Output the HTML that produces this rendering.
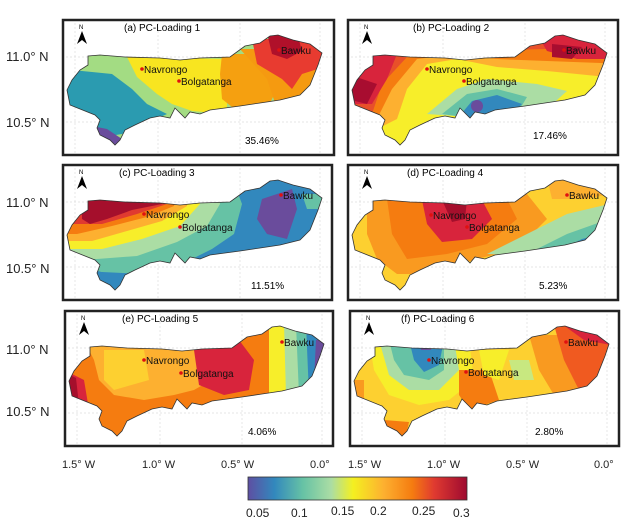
<!DOCTYPE html>
<html><head><meta charset="utf-8"><style>
html,body{margin:0;padding:0;background:#fff;}
svg{display:block;font-family:"Liberation Sans",sans-serif;}
</style></head><body>
<svg width="641" height="528" viewBox="0 0 641 528" xmlns="http://www.w3.org/2000/svg">
<defs>
<path id="ol" d="M26,37 L38,36 L63,38 L98,39 L118,41 L138,39 L168,38 L183,27 L198,24 L208,17 L216,16 L231,21 L248,25 L260,34 L256,46 L248,66 L238,76 L218,81 L198,84 L178,87 L163,89 L148,91 L138,95 L128,93 L123,99 L113,89 L108,99 L98,97 L88,99 L73,106 L63,111 L58,121 L53,126 L48,121 L38,116 L35,109 L38,101 L33,96 L8,86 L5,71 L10,61 L18,51 L26,46 Z"/>
<clipPath id="cp"><use href="#ol"/></clipPath>
<linearGradient id="cb" x1="0" x2="1" y1="0" y2="0">
<stop offset="0" stop-color="#5e4fa2"/><stop offset="0.12" stop-color="#3288bd"/><stop offset="0.25" stop-color="#66c2a5"/><stop offset="0.38" stop-color="#abdda4"/><stop offset="0.48" stop-color="#f4f020"/><stop offset="0.62" stop-color="#fdb030"/><stop offset="0.75" stop-color="#f57c10"/><stop offset="0.85" stop-color="#e03a30"/><stop offset="1" stop-color="#9e0a30"/>
</linearGradient>
<g id="grid" stroke="#ddd" stroke-width="0.7" stroke-dasharray="2,2">
<line x1="13" y1="0" x2="13" y2="137"/><line x1="96" y1="0" x2="96" y2="137"/><line x1="178" y1="0" x2="178" y2="137"/><line x1="258" y1="0" x2="258" y2="137"/>
<line x1="0" y1="38" x2="272" y2="38"/><line x1="0" y1="103" x2="272" y2="103"/>
</g>
<g id="na"><polygon points="15,25 20,12 25,25 20,21" fill="#000"/><text x="17" y="10" font-size="6">N</text></g>
</defs>

<g font-size="13" fill="#222">
<text x="6" y="61">11.0° N</text><text x="6" y="127">10.5° N</text>
<text x="6" y="207">11.0° N</text><text x="6" y="273">10.5° N</text>
<text x="6" y="354">11.0° N</text><text x="6" y="416">10.5° N</text>
<g font-size="11">
<text x="62" y="468">1.5° W</text><text x="142" y="468">1.0° W</text><text x="221" y="468">0.5° W</text><text x="310" y="468">0.0°</text>
<text x="348" y="468">1.5° W</text><text x="427" y="468">1.0° W</text><text x="506" y="468">0.5° W</text><text x="594" y="468">0.0°</text>
</g>
</g>

<!-- Panel a -->
<g transform="translate(62,19)">
<rect x="0" y="0" width="273" height="137" fill="#fff"/>
<use href="#grid"/>
<g clip-path="url(#cp)">
<rect x="0" y="0" width="280" height="140" fill="#a3dc83"/>
<polygon points="0,50 50,55 70,70 85,85 105,95 60,115 30,120 0,110" fill="#2b9bb0"/>
<polygon points="20,105 45,110 60,120 50,135 15,130" fill="#6a4c9c"/>
<polygon points="65,38 165,40 165,95 130,92 110,85 95,75 75,58" fill="#f8e520"/>
<polygon points="160,35 185,35 200,45 215,70 205,90 175,92 160,80 158,55" fill="#f5a010"/>
<polygon points="178,30 262,30 262,95 215,90 205,60" fill="#f59a10"/>
<polygon points="190,20 262,20 262,48 240,55 230,70 220,60 195,45" fill="#e83b30"/>
<polygon points="205,14 235,14 240,32 225,40 210,35" fill="#b0102a"/>
</g>
<use href="#ol" fill="none" stroke="#333" stroke-width="0.8"/>
<rect x="1" y="1" width="271" height="135" fill="none" stroke="#222" stroke-width="2.5"/>
<use href="#na"/>
<text x="62" y="12" font-size="10">(a) PC-Loading 1</text>
<text x="183" y="125" font-size="10">35.46%</text>
</g>

<!-- Panel b -->
<g transform="translate(347,19)">
<rect x="0" y="0" width="272" height="137" fill="#fff"/>
<use href="#grid"/>
<g clip-path="url(#cp)">
<rect x="0" y="0" width="280" height="140" fill="#f7ee2a"/>
<polygon points="0,0 280,0 280,60 200,52 150,48 110,40 80,45 60,70 50,100 30,110 0,110" fill="#fdb030"/>
<polygon points="0,0 280,0 280,45 200,42 150,40 110,35 70,40 45,70 30,100 0,100" fill="#f57c10"/>
<polygon points="0,0 280,0 280,32 240,32 200,30 110,32 60,38 35,65 25,95 0,95" fill="#e8502a"/>
<polygon points="0,30 50,35 40,60 25,85 0,85" fill="#d8243c"/>
<polygon points="0,55 30,65 20,85 0,80" fill="#a80d30"/>
<polygon points="190,15 250,15 262,40 230,40 200,32" fill="#d8243c"/>
<polygon points="205,25 235,28 225,40 205,38" fill="#a80d30"/>
<polygon points="80,95 110,70 140,60 190,65 220,72 200,90 150,100" fill="#abdda4"/>
<polygon points="95,95 120,75 150,70 180,78 170,95 130,100" fill="#66c2a5"/>
<polygon points="110,100 125,82 150,76 175,85 160,100" fill="#3288bd"/>
<circle cx="130" cy="87" r="6" fill="#6a4c9c"/>
</g>
<use href="#ol" fill="none" stroke="#333" stroke-width="0.8"/>
<rect x="1" y="1" width="270" height="135" fill="none" stroke="#222" stroke-width="2.5"/>
<use href="#na"/>
<text x="66" y="12" font-size="10">(b) PC-Loading 2</text>
<text x="186" y="120" font-size="10">17.46%</text>
</g>

<!-- Panel c -->
<g transform="translate(62,164)">
<rect x="0" y="0" width="271" height="137" fill="#fff"/>
<use href="#grid"/>
<g clip-path="url(#cp)">
<rect x="0" y="0" width="280" height="140" fill="#3288bd"/>
<polygon points="0,0 165,0 180,40 172,70 150,85 120,100 80,110 40,108 0,105" fill="#66c2a5"/>
<polygon points="0,0 150,0 158,40 145,62 115,78 75,92 35,95 0,95" fill="#abdda4"/>
<polygon points="0,0 135,0 138,40 118,62 80,75 40,85 0,85" fill="#f7ee2a"/>
<polygon points="0,0 125,0 125,42 100,57 65,67 30,77 0,77" fill="#fdb030"/>
<polygon points="0,0 118,0 112,42 85,53 50,62 15,70 0,70" fill="#f57c10"/>
<polygon points="0,0 112,0 105,40 75,50 40,60 0,60" fill="#e03a30"/>
<polygon points="20,30 108,30 100,40 70,46 45,55 28,60 20,55" fill="#a50f2c"/>
<polygon points="30,105 60,115 50,140 20,140" fill="#3288bd"/>
<polygon points="200,35 230,25 235,45 225,75 205,70 195,55" fill="#6a4c9c"/>
<polygon points="240,30 262,30 262,45 245,45" fill="#66c2a5"/>
</g>
<use href="#ol" fill="none" stroke="#333" stroke-width="0.8"/>
<rect x="1" y="1" width="269" height="135" fill="none" stroke="#222" stroke-width="2.5"/>
<use href="#na"/>
<text x="57" y="12" font-size="10">(c) PC-Loading 3</text>
<text x="189" y="125" font-size="10">11.51%</text>
</g>

<!-- Panel d -->
<g transform="translate(347,164)">
<rect x="0" y="0" width="272" height="137" fill="#fff"/>
<use href="#grid"/>
<g clip-path="url(#cp)">
<rect x="0" y="0" width="280" height="140" fill="#fdd030"/>
<polygon points="20,30 180,30 200,55 170,85 130,95 80,110 50,110 30,95 20,70" fill="#f99a20"/>
<polygon points="40,35 160,35 170,55 140,80 100,90 60,95 45,70" fill="#f57c10"/>
<polygon points="75,36 135,36 145,55 125,75 95,78 80,60" fill="#d8243c"/>
<polygon points="95,36 120,36 118,55 105,58" fill="#a50f2c"/>
<polygon points="140,90 180,70 220,50 262,40 262,90 200,92" fill="#abdda4"/>
<polygon points="180,90 220,70 262,55 262,90" fill="#66c2a5"/>
<polygon points="205,90 235,75 262,68 262,90" fill="#3288bd"/>
<polygon points="200,14 240,14 262,30 240,35 205,35" fill="#fdb030"/>
</g>
<use href="#ol" fill="none" stroke="#333" stroke-width="0.8"/>
<rect x="1" y="1" width="270" height="135" fill="none" stroke="#222" stroke-width="2.5"/>
<use href="#na"/>
<text x="60" y="12" font-size="10">(d) PC-Loading 4</text>
<text x="192" y="125" font-size="10">5.23%</text>
</g>

<!-- Panel e -->
<g transform="translate(64,310)">
<rect x="0" y="0" width="270" height="137" fill="#fff"/>
<use href="#grid"/>
<g clip-path="url(#cp)">
<rect x="0" y="0" width="280" height="140" fill="#f57c10"/>
<polygon points="20,30 165,30 165,60 130,80 110,85 80,90 50,85 35,70 30,50" fill="#fdb030"/>
<polygon points="40,40 80,40 85,70 50,80 40,70" fill="#fdd030"/>
<polygon points="130,40 175,30 190,50 185,80 160,85 135,75" fill="#d8243c"/>
<polygon points="0,60 20,70 25,100 0,100" fill="#d8243c"/>
<polygon points="0,62 12,68 15,95 0,95" fill="#a50f2c"/>
<polygon points="205,14 262,14 262,90 205,85" fill="#f7ee2a"/>
<polygon points="220,14 262,14 262,90 222,85" fill="#abdda4"/>
<polygon points="232,14 262,14 262,90 235,85" fill="#66c2a5"/>
<polygon points="242,14 262,14 262,90 245,85" fill="#3288bd"/>
<polygon points="252,30 262,30 262,70 250,70" fill="#6a4c9c"/>
</g>
<use href="#ol" fill="none" stroke="#333" stroke-width="0.8"/>
<rect x="1" y="1" width="268" height="135" fill="none" stroke="#222" stroke-width="2.5"/>
<use href="#na"/>
<text x="58" y="12" font-size="10">(e) PC-Loading 5</text>
<text x="184" y="125" font-size="10">4.06%</text>
</g>

<!-- Panel f -->
<g transform="translate(349,310)">
<rect x="0" y="0" width="271" height="137" fill="#fff"/>
<use href="#grid"/>
<g clip-path="url(#cp)">
<rect x="0" y="0" width="280" height="140" fill="#fdd030"/>
<polygon points="20,30 120,30 125,70 100,90 70,95 40,85 25,60" fill="#f7ee2a"/>
<polygon points="30,30 105,30 110,60 90,80 60,80 40,65" fill="#abdda4"/>
<polygon points="40,30 95,30 95,60 80,70 55,65 45,50" fill="#66c2a5"/>
<polygon points="60,30 95,30 90,55 75,62 65,50" fill="#3288bd"/>
<polygon points="70,30 85,30 82,40 72,40" fill="#6a4c9c"/>
<polygon points="110,60 140,60 150,90 120,100 110,85" fill="#f57c10"/>
<polygon points="130,40 160,40 150,70 135,65" fill="#f7ee2a"/>
<polygon points="180,25 262,25 262,90 205,85 190,60" fill="#f99a20"/>
<polygon points="205,15 262,15 262,80 230,80 215,50" fill="#f05a20"/>
<polygon points="210,12 262,12 262,35 235,30" fill="#d8243c"/>
<polygon points="0,70 15,70 15,100 0,100" fill="#f99a20"/>
<polygon points="35,110 60,112 55,135 35,130" fill="#f57c10"/>
<polygon points="160,50 180,50 185,70 165,70" fill="#c8e880"/>
</g>
<use href="#ol" fill="none" stroke="#333" stroke-width="0.8"/>
<rect x="1" y="1" width="269" height="135" fill="none" stroke="#222" stroke-width="2.5"/>
<use href="#na"/>
<text x="52" y="12" font-size="10">(f) PC-Loading 6</text>
<text x="186" y="125" font-size="10">2.80%</text>
</g>

<g fill="#e01010">
<circle cx="142" cy="69" r="1.8"/><circle cx="179" cy="81" r="1.8"/><circle cx="279" cy="50" r="1.8"/>
<circle cx="427" cy="69" r="1.8"/><circle cx="464" cy="81" r="1.8"/><circle cx="564" cy="50" r="1.8"/>
<circle cx="144" cy="214" r="1.8"/><circle cx="180" cy="227" r="1.8"/><circle cx="281" cy="195" r="1.8"/>
<circle cx="431" cy="215" r="1.8"/><circle cx="467" cy="227" r="1.8"/><circle cx="567" cy="195" r="1.8"/>
<circle cx="144" cy="360" r="1.8"/><circle cx="181" cy="373" r="1.8"/><circle cx="282" cy="342" r="1.8"/>
<circle cx="429" cy="360" r="1.8"/><circle cx="466" cy="372" r="1.8"/><circle cx="566" cy="342" r="1.8"/>
</g>
<g font-size="10" fill="#111">
<text x="144" y="73">Navrongo</text><text x="181" y="85">Bolgatanga</text><text x="281" y="54">Bawku</text>
<text x="429" y="73">Navrongo</text><text x="466" y="85">Bolgatanga</text><text x="566" y="54">Bawku</text>
<text x="146" y="218">Navrongo</text><text x="182" y="231">Bolgatanga</text><text x="283" y="199">Bawku</text>
<text x="433" y="219">Navrongo</text><text x="469" y="231">Bolgatanga</text><text x="569" y="199">Bawku</text>
<text x="146" y="364">Navrongo</text><text x="183" y="377">Bolgatanga</text><text x="284" y="346">Bawku</text>
<text x="431" y="364">Navrongo</text><text x="468" y="376">Bolgatanga</text><text x="568" y="346">Bawku</text>
</g>

<rect x="248" y="477" width="219" height="23" fill="url(#cb)" stroke="#333" stroke-width="0.8"/>
<g font-size="12" fill="#222" font-family="Liberation Sans Narrow, Liberation Sans, sans-serif">
<text x="246" y="517">0.05</text><text x="291" y="517">0.1</text><text x="331" y="515">0.15</text><text x="370" y="515">0.2</text><text x="412" y="515">0.25</text><text x="453" y="517">0.3</text>
</g>
</svg>
</body></html>
